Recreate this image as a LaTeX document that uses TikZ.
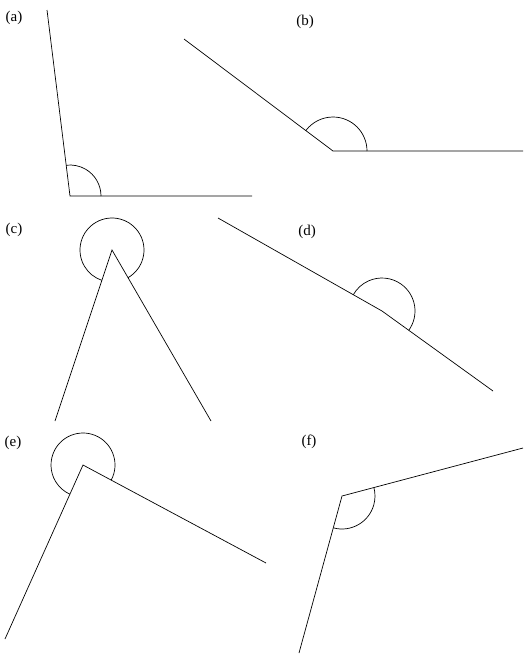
\documentclass[tikz,border=0pt]{standalone}
\usepackage{fontspec}
\setmainfont{Liberation Serif}
\usetikzlibrary{angles}

\tikzset{
  arm/.style={black, line width=0.7pt},
  tag/.style={font=\fontsize{15}{18}\selectfont, inner sep=0pt},
  turn/.style={draw, black, line width=0.7pt}
}

\begin{document}
\begin{tikzpicture}[x=1pt, y=1pt]

\useasboundingbox (0,0) rectangle (530,-665);

% (a)
\node[tag] (la) at (14,-18) {(a)};
\coordinate (va) at (70,-196);
\coordinate (pa) at (47,-10);
\coordinate (qa) at (252,-196);
\draw[arm] (pa) -- (va) -- (qa);
\pic[turn, angle radius=31pt] {angle = qa--va--pa};

% (b)
\node[tag] (lb) at (305,-22) {(b)};
\coordinate (vb) at (333,-151);
\coordinate (pb) at (184,-39);
\coordinate (qb) at (523,-151);
\draw[arm] (pb) -- (vb) -- (qb);
\pic[turn, angle radius=34pt] {angle = qb--vb--pb};

% (c)
\node[tag] (lc) at (14,-230) {(c)};
\coordinate (vc) at (112,-250);
\coordinate (pc) at (55,-421);
\coordinate (qc) at (211,-421);
\draw[arm] (pc) -- (vc) -- (qc);
\pic[turn, angle radius=32pt] {angle = qc--vc--pc};

% (d)
\node[tag] (ld) at (307,-232) {(d)};
\coordinate (vd) at (382,-311);
\coordinate (pd) at (218,-218);
\coordinate (qd) at (493,-391);
\draw[arm] (pd) -- (vd) -- (qd);
\pic[turn, angle radius=33pt] {angle = qd--vd--pd};

% (e)
\node[tag] (le) at (13,-443) {(e)};
\coordinate (ve) at (83,-465);
\coordinate (pe) at (5,-639);
\coordinate (qe) at (266,-563);
\draw[arm] (pe) -- (ve) -- (qe);
\pic[turn, angle radius=32pt] {angle = qe--ve--pe};

% (f)
\node[tag] (lf) at (309,-442) {(f)};
\coordinate (vf) at (342,-496);
\coordinate (pf) at (299,-653);
\coordinate (qf) at (523,-448);
\draw[arm] (pf) -- (vf) -- (qf);
\pic[turn, angle radius=33pt] {angle = pf--vf--qf};

\end{tikzpicture}
\end{document}
